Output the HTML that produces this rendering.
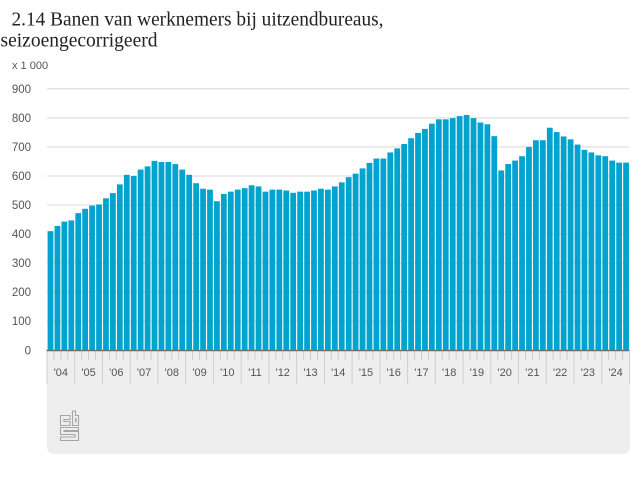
<!DOCTYPE html>
<html>
<head>
<meta charset="utf-8">
<style>
html,body{margin:0;padding:0;background:#fff;}
svg{display:block;}
text{font-family:"Liberation Sans",sans-serif;}
</style>
</head>
<body>
<svg id="chart" width="640" height="480" viewBox="0 0 640 480" xmlns="http://www.w3.org/2000/svg">
  <rect width="640" height="480" fill="#fff"/>
  <path d="M47 351H630V447a7 7 0 0 1-7 7H54a7 7 0 0 1-7-7Z" fill="#eeeeee"/>
  <text x="11.5" y="25.5" font-size="19.5" textLength="372" lengthAdjust="spacingAndGlyphs" fill="#222" style="font-family:'Liberation Serif',serif">2.14 Banen van werknemers bij uitzendbureaus,</text>
  <text x="0.5" y="46.5" font-size="19.5" textLength="157" lengthAdjust="spacingAndGlyphs" fill="#222" style="font-family:'Liberation Serif',serif">seizoengecorrigeerd</text>
  <text x="12" y="69" font-size="11" fill="#555">x 1 000</text>
  <g id="grid"></g>
  <g id="bars"></g>
  <g id="xaxis"></g>
  <g id="yaxis"></g>
  <g fill="none" stroke="#a6a6a6" stroke-width="1.1">
    <path d="M70 415.5H60.5V425.5H70V421.5H64V419.5H70Z"/>
    <path d="M72.5 411V425.5H78.5V415.5H75.5V411ZM75.5 418.5V422H76V418.5Z"/>
    <path d="M78.5 427.5H60.5V434.5H75V437H60.5V440.5H78.5V431.5H64V430.5H78.5Z"/>
  </g>
</svg>
<script>
const yearLabels = ["'04","'05","'06","'07","'08","'09","'10","'11","'12","'13","'14","'15","'16","'17","'18","'19","'20","'21","'22","'23","'24"];
const seriesValues = [
  410,428,443,447, 472,487,498,502, 523,541,571,604,
  600,622,633,652, 648,648,641,622, 604,575,556,553,
  513,538,546,553, 558,568,564,546, 553,553,550,542,
  546,546,550,556, 553,564,578,596, 608,626,645,660,
  660,681,695,710, 730,748,762,780, 795,795,799,806,
  810,799,784,778, 737,619,641,653, 668,700,723,723,
  766,751,736,726, 708,690,681,671, 668,653,646,646
];
const yTickValues = [0,100,200,300,400,500,600,700,800,900];
const quartersPerYear = 4;

const NS = 'http://www.w3.org/2000/svg';
const plotLeft = 47, plotRight = 629.5, baseY = 350.3, topY = 88.8, maxValue = 900;
function xScale(i){ return plotLeft + i * (plotRight - plotLeft) / seriesValues.length; }
function yScale(v){ return baseY - v * (baseY - topY) / maxValue; }
function make(tag, attrs, parent){
  const el = document.createElementNS(NS, tag);
  for (const k in attrs) el.setAttribute(k, attrs[k]);
  parent.appendChild(el);
  return el;
}
const gridG = document.getElementById('grid');
const barsG = document.getElementById('bars');
const xG = document.getElementById('xaxis');
const yG = document.getElementById('yaxis');

yTickValues.forEach(function(v){
  if (v > 0) {
    const line = make('line', {x1:47, x2:plotRight - 0.5, y1:yScale(v), y2:yScale(v), stroke:'#d9d9d9', 'stroke-width':1}, gridG);
    
    
  }
  const label = make('text', {x:31, y:yScale(v) + 4, 'font-size':11.5, 'text-anchor':'end', fill:'#555'}, yG);
  label.textContent = String(v);
  
  
});

seriesValues.forEach(function(v, i){
  const bw = (plotRight - plotLeft) / seriesValues.length;
  const bar = make('rect', {x:xScale(i) + 0.6, y:yScale(v), width:bw - 1.15, height:baseY - yScale(v), fill:'#03a3cf'}, barsG);
  
  
});

for (let i = 0; i <= seriesValues.length; i++) {
  const isYear = i % quartersPerYear === 0;
  const tick = make('line', {x1:xScale(i), x2:xScale(i), y1:351, y2:isYear ? 384 : 360, stroke:'#cfcfcf', 'stroke-width':1}, xG);
  
  
}
yearLabels.forEach(function(t, j){
  const label = make('text', {x:xScale(j * quartersPerYear + quartersPerYear / 2), y:376, 'font-size':11, 'text-anchor':'middle', fill:'#555'}, xG);
  label.textContent = t;
  
  
});
const axis = make('line', {x1:46.5, x2:plotRight, y1:baseY + 0.2, y2:baseY + 0.2, stroke:'#6e6e6e', 'stroke-width':1.6}, xG);


</script>
</body>
</html>
